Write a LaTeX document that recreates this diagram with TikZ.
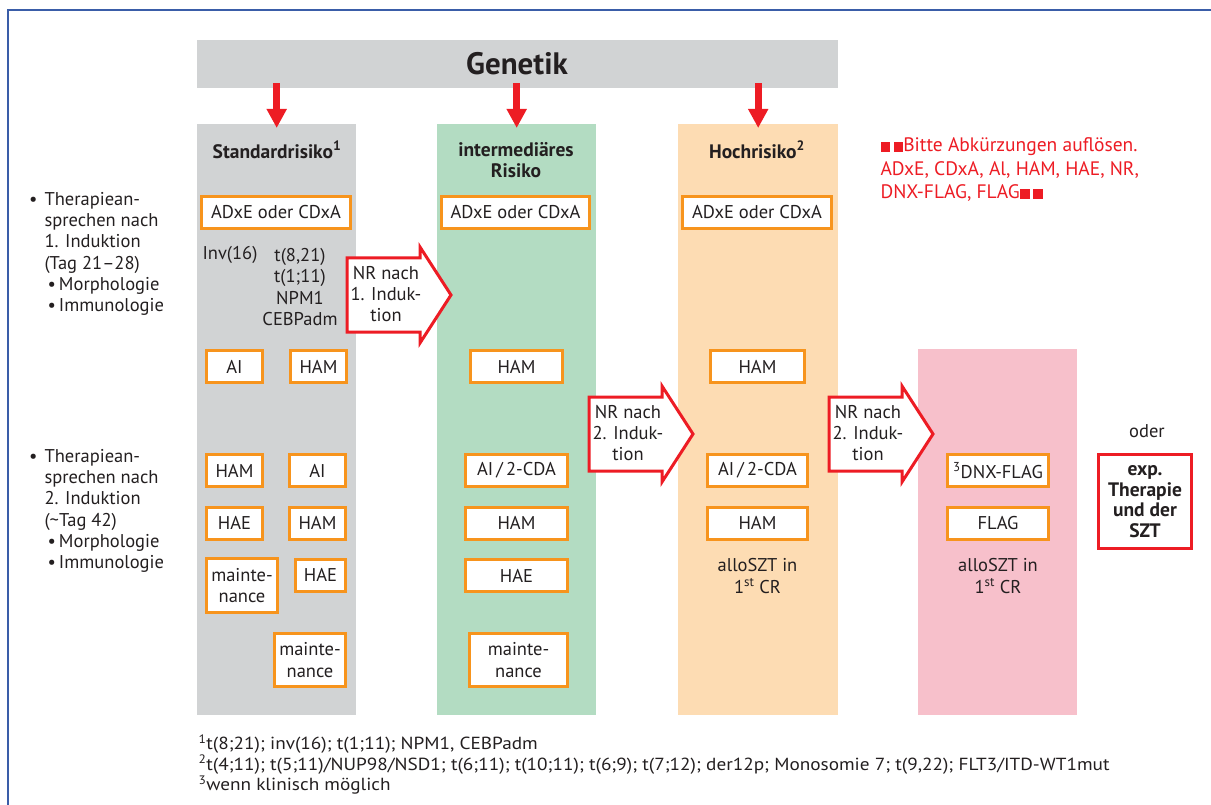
\documentclass[tikz,border=0pt]{standalone}
\usepackage{fontspec}
\setmainfont{PT Sans}
\usetikzlibrary{arrows.meta}

\definecolor{rahmenblau}{HTML}{3A5DA8}
\definecolor{grau}{HTML}{D1D3D4}
\definecolor{gruen}{HTML}{B3DCC2}
\definecolor{hellorange}{HTML}{FDDCB3}
\definecolor{rosa}{HTML}{F7C0CB}
\definecolor{rot}{HTML}{ED1C24}
\definecolor{kastenorange}{HTML}{F7941D}
\definecolor{schrift}{HTML}{231F20}

\begin{document}
\begin{tikzpicture}[x=1pt,y=-1pt,
  every node/.style={text=schrift, font=\fontsize{18.5}{21.3}\selectfont},
  spalte/.style={draw=none, inner sep=0pt, anchor=north west},
  kopf/.style={font=\fontsize{19.5}{21.3}\selectfont\bfseries, align=center},
  kasten/.style={draw=kastenorange, line width=3pt, fill=white, inner sep=1pt,
    minimum height=32pt, align=center},
  genpfeil/.style={draw=rot, line width=7pt, -{Triangle[width=19pt,length=19pt]}},
  nrpfeil/.style={draw=rot, line width=3pt, fill=white, line join=miter},
  nrtext/.style={align=center},
  fussnote/.style={anchor=north west, align=left,
    font=\fontsize{17.5}{20.5}\selectfont\addfontfeature{FakeStretch=1.1}}
]
\useasboundingbox (0,0) rectangle (1211,805);

% Rahmen
\draw[rahmenblau, line width=2pt] (8,806) |- (1212,10);

% Genetik-Balken und Spalten
\node[spalte, fill=grau, minimum width=641pt, minimum height=48pt] (gen) at (197,40) {};
\node[font=\fontsize{31}{33}\selectfont\bfseries] (gentext) at (517,64) {Genetik};

\node[spalte, fill=grau, minimum width=159pt, minimum height=591pt] (std) at (197,124) {};
\node[spalte, fill=gruen, minimum width=159pt, minimum height=591pt] (int) at (437,124) {};
\node[spalte, fill=hellorange, minimum width=160pt, minimum height=591pt] (hoch) at (678,124) {};
\node[spalte, fill=rosa, minimum width=159pt, minimum height=366pt] (rez) at (918,349) {};

% Pfeile Genetik -> Risiko
\foreach \sp in {std,int,hoch}
  \draw[genpfeil] ([yshift=5pt]gen.south -| \sp.north) -- ([yshift=-4pt]\sp.north);

% Kopfzeilen
\node[kopf] (kstd) at (277,150) {Standardrisiko\textsuperscript{1}};
\node[kopf] (kint) at (516,160) {intermediäres\\Risiko};
\node[kopf] (khoch) at (757,150) {Hochrisiko\textsuperscript{2}};

% 1. Induktion
\node[kasten, minimum width=149pt] (std1) at (276,212.5) {ADxE oder CDxA};
\node[kasten, minimum width=148pt] (int1) at (515.5,212.5) {ADxE oder CDxA};
\node[kasten, minimum width=149pt] (hoch1) at (757,212.5) {ADxE oder CDxA};

\node (inv) at (230,255) {Inv(16)};
\node[align=center] (gene) at (300,287) {t(8,21)\\t(1;11)\\NPM1\\CEBPadm};

% 2. Induktion
\node[kasten, minimum width=56pt] (std2a) at (234.5,366.5) {AI};
\node[kasten, minimum width=56pt] (std2b) at (318.5,366.5) {HAM};
\node[kasten, minimum width=92pt] (int2) at (516.5,366.5) {HAM};
\node[kasten, minimum width=94pt] (hoch2) at (757.5,366.5) {HAM};

% NR-Pfeile
\foreach \px/\py/\nr/\ind in {347/258/1/1, 589/397/2/2, 829/397/3/2}{
  \draw[nrpfeil] (\px,\py) -- ++(73,0) -- ++(0,-11) -- ++(31,48) -- ++(-31,48)
    -- ++(0,-11) -- ++(-73,0) -- cycle;
  \node[nrtext] (nr\nr) at (\px+39,\py+36) {NR nach\\\ind. Induk-\\tion};
}

% Therapie nach 2. Induktion
\node[kasten, minimum width=56pt] (std3a) at (234.5,470.5) {HAM};
\node[kasten, minimum width=56pt] (std3b) at (317.5,470.5) {AI};
\node[kasten, minimum width=102pt] (int3) at (516.5,470.5) {AI\,/\,2-CDA};
\node[kasten, minimum width=100pt] (hoch3) at (757.5,470.5) {AI\,/\,2-CDA};
\node[kasten, minimum width=101pt] (rez3) at (998,470.5) {\textsuperscript{3}DNX-FLAG};

\node[kasten, minimum width=56pt] (std4a) at (234.5,523) {HAE};
\node[kasten, minimum width=56pt] (std4b) at (317.5,523) {HAM};
\node[kasten, minimum width=102pt] (int4) at (516.5,523) {HAM};
\node[kasten, minimum width=100pt] (hoch4) at (757.5,523) {HAM};
\node[kasten, minimum width=101pt] (rez4) at (998,523) {FLAG};

\node[kasten, minimum width=71pt, minimum height=54pt] (std5a) at (242,585.5) {mainte-\\nance};
\node[kasten, minimum width=50pt] (std5b) at (320.5,575) {HAE};
\node[kasten, minimum width=102pt] (int5) at (516.5,575.5) {HAE};
\node[align=center] (hoch5) at (757.5,576) {alloSZT in\\1\textsuperscript{st} CR};
\node[align=center] (rez5) at (998,576) {alloSZT in\\1\textsuperscript{st} CR};

\node[kasten, minimum width=71pt, minimum height=53pt] (std6) at (310,660) {mainte-\\nance};
\node[kasten, minimum width=98pt, minimum height=53pt] (int6) at (518.5,660) {mainte-\\nance};

% Alternative
\node (oder) at (1147,431) {oder};
\node[draw=rot, line width=3pt, fill=white, minimum width=93pt, minimum height=94pt,
  inner sep=1pt, align=center, font=\fontsize{19.5}{20.7}\selectfont\bfseries] (exp) at (1145,501.5)
  {exp.\\Therapie\\und der\\SZT};

% Hinweis
\node[anchor=west, align=left, text=rot, font=\fontsize{19.5}{23.5}\selectfont] (hinweis) at (877,170)
  {\rule{0.5em}{0.5em}\,\rule{0.5em}{0.5em}Bitte Abkürzungen auflösen.\\
   ADxE, CDxA, Al, HAM, HAE, NR,\\
   DNX-FLAG, FLAG\rule{0.5em}{0.5em}\,\rule{0.5em}{0.5em}};

% Zeitpunkte links
\node[anchor=north west, inner sep=0pt] (zeit1) at (29,190)
  {\begin{tabular}{@{}l@{\hspace{7pt}}l@{}}
   \textbullet & Therapiean-\\
   & sprechen nach\\
   & 1. Induktion\\
   & (Tag 21–28)\\
   & \hspace{3pt}\textbullet\,Morphologie\\
   & \hspace{3pt}\textbullet\,Immunologie
   \end{tabular}};
\node[anchor=north west, inner sep=0pt] (zeit2) at (29,447)
  {\begin{tabular}{@{}l@{\hspace{7pt}}l@{}}
   \textbullet & Therapiean-\\
   & sprechen nach\\
   & 2. Induktion\\
   & (\textasciitilde Tag 42)\\
   & \hspace{3pt}\textbullet\,Morphologie\\
   & \hspace{3pt}\textbullet\,Immunologie
   \end{tabular}};

% Fussnoten
\node[fussnote] (fn) at (195,731)
  {\textsuperscript{1}t(8;21); inv(16); t(1;11); NPM1, CEBPadm\\
   \textsuperscript{2}t(4;11); t(5;11)/NUP98/NSD1; t(6;11); t(10;11); t(6;9); t(7;12); der12p; Monosomie 7; t(9,22); FLT3/ITD-WT1mut\\
   \textsuperscript{3}wenn klinisch möglich};
\end{tikzpicture}
\end{document}
